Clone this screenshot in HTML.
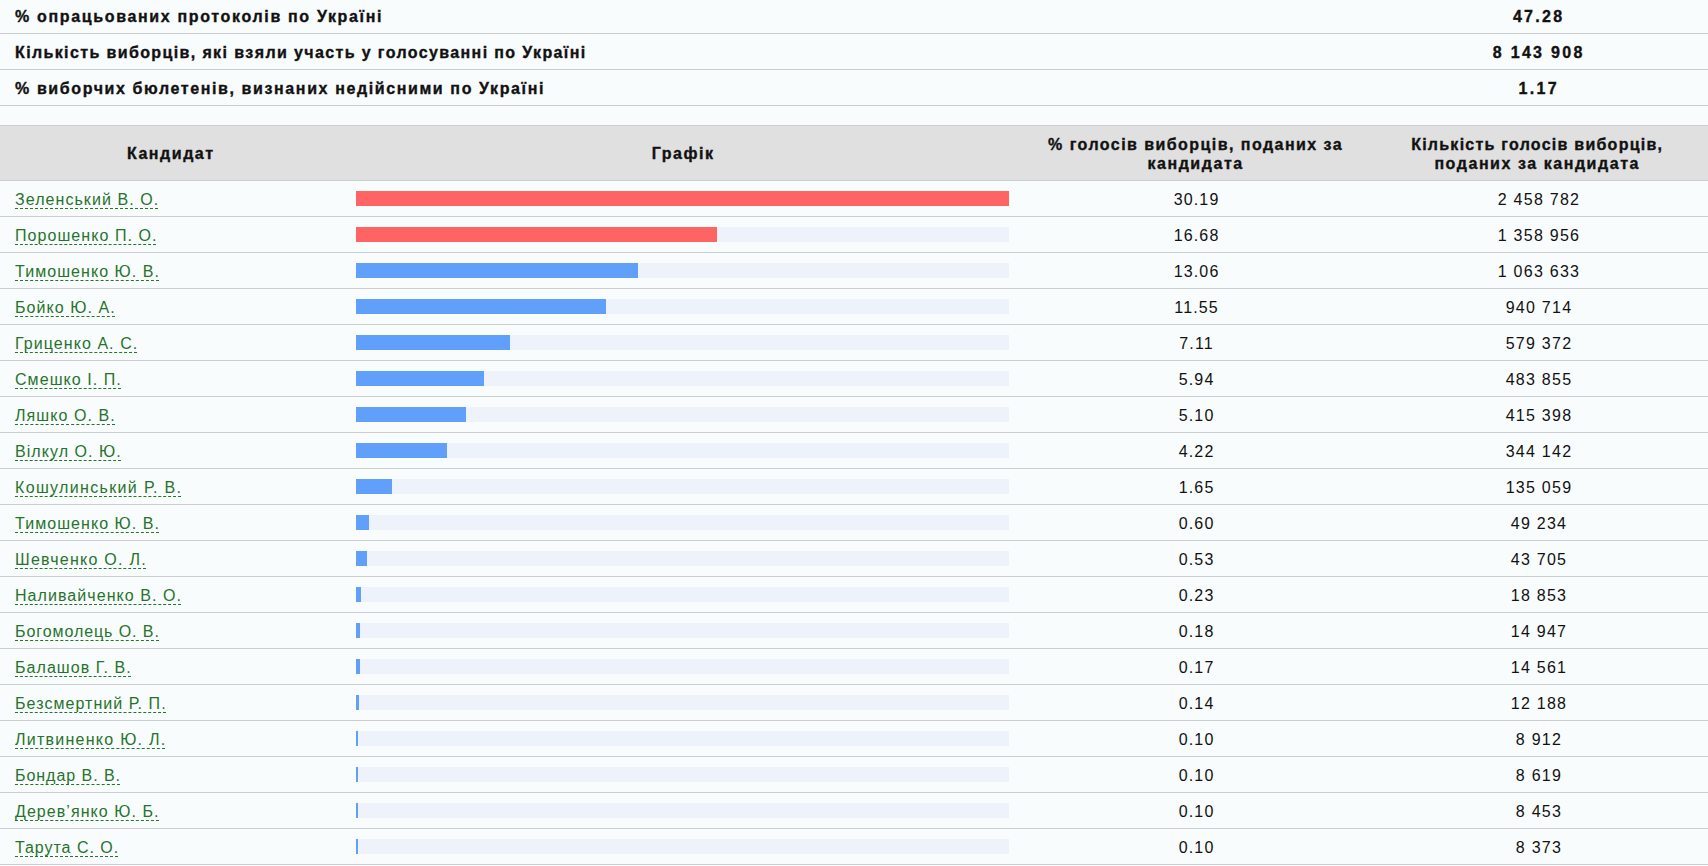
<!DOCTYPE html>
<html><head><meta charset="utf-8">
<style>
html,body{margin:0;padding:0;}
body{width:1708px;height:866px;overflow:hidden;background:#f9fcfd;font-family:"Liberation Sans",sans-serif;color:#111;position:relative;}
.top{position:absolute;left:0;top:-2px;width:1708px;}
.trow{position:relative;height:35px;border-bottom:1px solid #cbcdce;font-weight:bold;font-size:16px;-webkit-text-stroke:0.35px #111;}
.trow .lab{position:absolute;left:15px;top:10px;letter-spacing:1.55px;white-space:nowrap;}
.trow .val{position:absolute;left:1366.4px;width:341.6px;text-align:center;top:10px;letter-spacing:2.3px;text-indent:3px;white-space:nowrap;}
.head{position:absolute;left:0;top:125px;width:1708px;height:54px;border-top:1px solid #cbcdce;border-bottom:1px solid #cbcdce;background:#e0e0e0;font-weight:bold;font-size:16px;letter-spacing:1.55px;-webkit-text-stroke:0.35px #111;}
.head div{position:absolute;text-align:center;line-height:18.5px;}
.rows{position:absolute;left:0;top:181px;width:1708px;}
.row{position:relative;height:35px;border-bottom:1px solid #cbcdce;font-size:16px;}
.c1{position:absolute;left:15px;top:10px;white-space:nowrap;}
.nm{color:#26732b;letter-spacing:1.06px;border-bottom:1px dashed #26732b;}
.track{position:absolute;left:356px;top:10px;width:653px;height:15px;background:#eef2fb;}
.bar{height:15px;}
.bar.r{background:#ff6464;}
.bar.b{background:#60a0fa;}
.c3{position:absolute;left:1024.8px;width:341.6px;text-align:center;top:10px;letter-spacing:1.13px;text-indent:2px;}
.c4{position:absolute;left:1367.2px;width:341.6px;text-align:center;top:10px;letter-spacing:1.25px;text-indent:2px;}
</style></head><body>
<div class="top">
<div class="trow"><div class="lab" style="letter-spacing:1.66px">% опрацьованих протоколів по Україні</div><div class="val">47.28</div></div>
<div class="trow"><div class="lab" style="letter-spacing:1.38px">Кількість виборців, які взяли участь у голосуванні по Україні</div><div class="val">8 143 908</div></div>
<div class="trow"><div class="lab" style="letter-spacing:1.61px">% виборчих бюлетенів, визнаних недійсними по Україні</div><div class="val">1.17</div></div>
</div>
<div class="head">
<div style="left:0;width:341.6px;top:19px;">Кандидат</div>
<div style="left:341.6px;width:683.2px;top:19px;">Графік</div>
<div style="left:1024.8px;width:341.6px;top:10px;"><span style="letter-spacing:1.45px">% голосів виборців, поданих за</span><br>кандидата</div>
<div style="left:1366.4px;width:341.6px;top:10px;"><span style="letter-spacing:1.25px">Кількість голосів виборців,</span><br>поданих за кандидата</div>
</div>
<div class="rows">
<div class="row"><div class="c1"><span class="nm">Зеленський В. О<span style="letter-spacing:0">.</span></span></div><div class="track"><div class="bar r" style="width:653.00px"></div></div><div class="c3">30.19</div><div class="c4">2 458 782</div></div>
<div class="row"><div class="c1"><span class="nm">Порошенко П. О<span style="letter-spacing:0">.</span></span></div><div class="track"><div class="bar r" style="width:360.78px"></div></div><div class="c3">16.68</div><div class="c4">1 358 956</div></div>
<div class="row"><div class="c1"><span class="nm">Тимошенко Ю. В<span style="letter-spacing:0">.</span></span></div><div class="track"><div class="bar b" style="width:282.48px"></div></div><div class="c3">13.06</div><div class="c4">1 063 633</div></div>
<div class="row"><div class="c1"><span class="nm">Бойко Ю. А<span style="letter-spacing:0">.</span></span></div><div class="track"><div class="bar b" style="width:249.82px"></div></div><div class="c3">11.55</div><div class="c4">940 714</div></div>
<div class="row"><div class="c1"><span class="nm">Гриценко А. С<span style="letter-spacing:0">.</span></span></div><div class="track"><div class="bar b" style="width:153.79px"></div></div><div class="c3">7.11</div><div class="c4">579 372</div></div>
<div class="row"><div class="c1"><span class="nm">Смешко І. П<span style="letter-spacing:0">.</span></span></div><div class="track"><div class="bar b" style="width:128.48px"></div></div><div class="c3">5.94</div><div class="c4">483 855</div></div>
<div class="row"><div class="c1"><span class="nm">Ляшко О. В<span style="letter-spacing:0">.</span></span></div><div class="track"><div class="bar b" style="width:110.31px"></div></div><div class="c3">5.10</div><div class="c4">415 398</div></div>
<div class="row"><div class="c1"><span class="nm">Вілкул О. Ю<span style="letter-spacing:0">.</span></span></div><div class="track"><div class="bar b" style="width:91.28px"></div></div><div class="c3">4.22</div><div class="c4">344 142</div></div>
<div class="row"><div class="c1"><span class="nm" style="letter-spacing:1.34px">Кошулинський Р. В<span style="letter-spacing:0">.</span></span></div><div class="track"><div class="bar b" style="width:35.69px"></div></div><div class="c3">1.65</div><div class="c4">135 059</div></div>
<div class="row"><div class="c1"><span class="nm">Тимошенко Ю. В<span style="letter-spacing:0">.</span></span></div><div class="track"><div class="bar b" style="width:12.98px"></div></div><div class="c3">0.60</div><div class="c4">49 234</div></div>
<div class="row"><div class="c1"><span class="nm" style="letter-spacing:1.27px">Шевченко О. Л<span style="letter-spacing:0">.</span></span></div><div class="track"><div class="bar b" style="width:11.46px"></div></div><div class="c3">0.53</div><div class="c4">43 705</div></div>
<div class="row"><div class="c1"><span class="nm">Наливайченко В. О<span style="letter-spacing:0">.</span></span></div><div class="track"><div class="bar b" style="width:4.97px"></div></div><div class="c3">0.23</div><div class="c4">18 853</div></div>
<div class="row"><div class="c1"><span class="nm" style="letter-spacing:0.93px">Богомолець О. В<span style="letter-spacing:0">.</span></span></div><div class="track"><div class="bar b" style="width:3.89px"></div></div><div class="c3">0.18</div><div class="c4">14 947</div></div>
<div class="row"><div class="c1"><span class="nm">Балашов Г. В<span style="letter-spacing:0">.</span></span></div><div class="track"><div class="bar b" style="width:3.68px"></div></div><div class="c3">0.17</div><div class="c4">14 561</div></div>
<div class="row"><div class="c1"><span class="nm">Безсмертний Р. П<span style="letter-spacing:0">.</span></span></div><div class="track"><div class="bar b" style="width:3.03px"></div></div><div class="c3">0.14</div><div class="c4">12 188</div></div>
<div class="row"><div class="c1"><span class="nm" style="letter-spacing:1.26px">Литвиненко Ю. Л<span style="letter-spacing:0">.</span></span></div><div class="track"><div class="bar b" style="width:2.16px"></div></div><div class="c3">0.10</div><div class="c4">8 912</div></div>
<div class="row"><div class="c1"><span class="nm" style="letter-spacing:0.96px">Бондар В. В<span style="letter-spacing:0">.</span></span></div><div class="track"><div class="bar b" style="width:2.16px"></div></div><div class="c3">0.10</div><div class="c4">8 619</div></div>
<div class="row"><div class="c1"><span class="nm">Дерев’янко Ю. Б<span style="letter-spacing:0">.</span></span></div><div class="track"><div class="bar b" style="width:2.16px"></div></div><div class="c3">0.10</div><div class="c4">8 453</div></div>
<div class="row"><div class="c1"><span class="nm" style="letter-spacing:0.96px">Тарута С. О<span style="letter-spacing:0">.</span></span></div><div class="track"><div class="bar b" style="width:2.16px"></div></div><div class="c3">0.10</div><div class="c4">8 373</div></div>
</div>
</body></html>
